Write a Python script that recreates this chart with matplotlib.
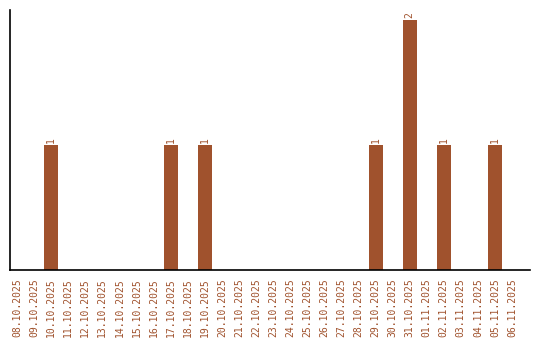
import matplotlib.pyplot as plt

# Data
dates = ['08.10.2025', '09.10.2025', '10.10.2025', '11.10.2025', '12.10.2025',
         '13.10.2025', '14.10.2025', '15.10.2025', '16.10.2025', '17.10.2025',
         '18.10.2025', '19.10.2025', '20.10.2025', '21.10.2025', '22.10.2025',
         '23.10.2025', '24.10.2025', '25.10.2025', '26.10.2025', '27.10.2025',
         '28.10.2025', '29.10.2025', '30.10.2025', '31.10.2025', '01.11.2025',
         '02.11.2025', '03.11.2025', '04.11.2025', '05.11.2025', '06.11.2025']
counts = [0, 0, 1, 0, 0, 0, 0, 0, 0, 1,
          0, 1, 0, 0, 0, 0, 0, 0, 0, 0,
          0, 1, 0, 2, 0, 1, 0, 0, 1, 0]

BAR_COLOR = '#A0522D'

fig = plt.figure(figsize=(5.4, 3.4), dpi=100)
ax = fig.add_axes([10 / 540, 70 / 340, 520 / 540, 260 / 340])

x = list(range(len(dates)))
bars = ax.bar(x, counts, width=0.82, color=BAR_COLOR)

# value labels above non-empty bars
for xi, c in zip(x, counts):
    if c > 0:
        ax.text(xi, c + 0.02, str(c), rotation=90, ha='center', va='bottom',
                color=BAR_COLOR, fontsize=7, family='DejaVu Sans Mono')

ax.set_xlim(-0.41, 30.05)
ax.set_ylim(0, 2.08)
ax.set_xticks(x)
ax.set_xticklabels(dates, rotation=90, color=BAR_COLOR, fontsize=7,
                   family='DejaVu Sans Mono')
ax.tick_params(axis='x', length=0, pad=6)
ax.set_yticks([])

for side in ['top', 'right']:
    ax.spines[side].set_visible(False)
ax.spines['left'].set_linewidth(1.2)
ax.spines['bottom'].set_linewidth(1.2)

fig.savefig('out.png', dpi=100)
